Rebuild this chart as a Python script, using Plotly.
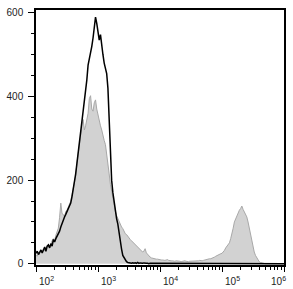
import numpy as np
import plotly.graph_objects as go

# log10 bin centres (channel positions), 0.02 decade steps from 10^2 to 10^6
log_bins = np.round(np.arange(2.0, 6.0001, 0.02), 2)

gray_counts = [
    22, 18, 28, 24, 30, 27, 35, 31, 38, 42,
    45, 40, 50, 55, 60, 56, 68, 75, 85, 110,
    145, 120, 118, 112, 125, 128, 135, 142, 150, 165,
    180, 195, 210, 240, 265, 285, 300, 330, 345, 320,
    330, 350, 360, 395, 402, 370, 365, 385, 392, 370,
    355, 345, 330, 320, 305, 295, 285, 265, 240, 215,
    190, 172, 160, 140, 125, 115, 108, 100, 95, 88,
    84, 76, 72, 70, 65, 60, 58, 55, 52, 47,
    45, 42, 38, 35, 32, 30, 28, 30, 36, 26,
    22, 19, 16, 14, 13, 12, 12, 11, 11, 10,
    10, 9, 9, 8, 8, 9, 10, 8, 7, 7,
    7, 6, 6, 7, 7, 6, 6, 5, 6, 6,
    7, 6, 5, 5, 6, 6, 6, 7, 7, 6,
    6, 7, 8, 7, 7, 8, 9, 9, 10, 11,
    12, 12, 13, 15, 16, 18, 20, 21, 22, 24,
    25, 28, 32, 38, 42, 46, 50, 60, 70, 85,
    100, 108, 115, 122, 128, 132, 138, 130, 125, 118,
    112, 100, 85, 68, 50, 38, 28, 20, 14, 9,
    5, 3, 2, 1, 1, 0, 0, 0, 0, 0,
    0, 0, 0, 0, 0, 0, 0, 0, 0, 0,
    0,
]

black_counts = [
    25, 30, 22, 28, 33, 26, 35, 40, 30, 42,
    45, 38, 48, 42, 58, 52, 60, 66, 72, 78,
    88, 98, 105, 112, 118, 124, 130, 138, 145, 160,
    178, 192, 215, 240, 265, 290, 310, 325, 350, 380,
    415, 440, 475, 490, 500, 520, 540, 560, 590, 575,
    555, 535, 548, 515, 500, 480, 470, 455, 420, 340,
    265, 200, 170, 145, 125, 108, 95, 72, 50, 35,
    20, 14, 8, 5, 3, 2, 2, 1, 2, 1,
    2, 1, 3, 1, 2, 1, 1, 2, 1, 1,
    1, 0, 1, 1, 0, 1, 0, 0, 1, 0,
    0, 1, 0, 0, 1, 0, 0, 0, 1, 0,
    0, 0, 1, 0, 0, 0, 0, 1, 0, 0,
    0, 0, 0, 0, 0, 0, 0, 0, 0, 0,
    0, 0, 0, 0, 0, 0, 0, 0, 0, 0,
    0, 0, 0, 0, 0, 0, 0, 0, 0, 0,
    0, 0, 0, 0, 0, 0, 0, 0, 0, 0,
    0, 0, 0, 0, 0, 0, 0, 0, 0, 0,
    0, 0, 0, 0, 0, 0, 0, 0, 0, 0,
    0, 0, 0, 0, 0, 0, 0, 0, 0, 0,
    0, 0, 0, 0, 0, 0, 0, 0, 0, 0,
    0,
]

x_vals = [10 ** v for v in log_bins]

y_tick_vals = [0, 200, 400, 600]
x_tick_exps = [2, 3, 4, 5, 6]
x_tick_labels = ["10<sup>2</sup>", "10<sup>3</sup>", "10<sup>4</sup>", "10<sup>5</sup>", "10<sup>6</sup>"]

fig = go.Figure()
fig.add_trace(go.Scatter(
    x=x_vals, y=gray_counts, mode="lines", fill="tozeroy",
    line=dict(color="#a8a8a8", width=1), fillcolor="#d2d2d2",
    showlegend=False, hoverinfo="skip",
))
fig.add_trace(go.Scatter(
    x=x_vals, y=black_counts, mode="lines",
    line=dict(color="#000000", width=1.5),
    showlegend=False, hoverinfo="skip",
))

annotations = []
for i, (e, lab) in enumerate(zip(x_tick_exps, x_tick_labels)):
    last = i == len(x_tick_exps) - 1
    annotations.append(dict(
        x=e, y=0, xref="x", yref="paper", text=lab, showarrow=False,
        xanchor="right" if last else "left", yanchor="top",
        xshift=4 if last else 1, yshift=-8,
        font=dict(family="Liberation Sans, Arial", size=10, color="#222"),
    ))

fig.update_layout(
    width=293, height=289,
    margin=dict(l=32, r=7, t=10, b=24),
    paper_bgcolor="white", plot_bgcolor="white",
    font=dict(family="Liberation Sans, Arial", size=10, color="#222"),
    annotations=annotations,
    xaxis=dict(
        type="log", range=[2, 6], showgrid=False, zeroline=False,
        showline=True, linecolor="black", linewidth=1.5, mirror=True,
        ticks="outside", ticklen=5, tickwidth=1.2, tickcolor="black",
        tickvals=[10 ** e for e in x_tick_exps], showticklabels=False,
        minor=dict(ticks="outside", ticklen=3, tickwidth=1, tickcolor="black",
                   tickvals=[m * 10 ** e for e in x_tick_exps[:-1] for m in range(2, 10)]),
    ),
    yaxis=dict(
        range=[-3, 607], showgrid=False, zeroline=False,
        showline=True, linecolor="black", linewidth=1.5, mirror=True,
        ticks="outside", ticklen=6, tickwidth=1.2, tickcolor="black",
        tickvals=y_tick_vals, ticklabelstandoff=3,
        minor=dict(ticks="outside", ticklen=3, tickwidth=1, tickcolor="black", dtick=50),
    ),
)

fig.write_html("out.html")
